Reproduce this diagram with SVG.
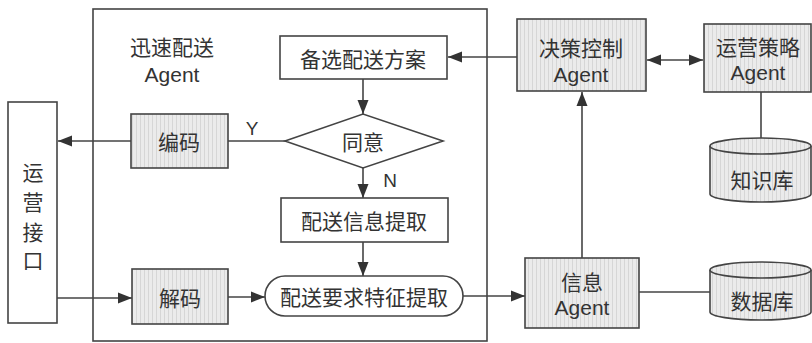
<svg xmlns="http://www.w3.org/2000/svg" width="812" height="343" viewBox="0 0 812 343">
<style>
.box{fill:#fff;stroke:#444;stroke-width:1.6}
.hat{fill:url(#hatch);stroke:#444;stroke-width:1.6}
.cn{font-family:"Noto Sans CJK SC","Liberation Sans",sans-serif;font-size:21px;fill:#333;text-anchor:middle;dominant-baseline:central}
.en{font-family:"Liberation Sans","Noto Sans",sans-serif;font-size:21px;fill:#333;text-anchor:middle;dominant-baseline:central}
.lbl{font-family:"Liberation Sans","Noto Sans",sans-serif;font-size:19px;fill:#333;text-anchor:middle;dominant-baseline:central}
.ln{fill:none;stroke:#444;stroke-width:1.6}
</style>
<defs>
<pattern id="hatch" width="4" height="4" patternUnits="userSpaceOnUse">
<rect width="4" height="4" fill="#ebebeb"/>
<rect width="1" height="4" fill="#d6d6d6"/>
</pattern>
<marker id="arr" markerUnits="userSpaceOnUse" markerWidth="15" markerHeight="12" refX="14" refY="6" orient="auto-start-reverse">
<path d="M0,0.5 L14,6 L0,11.5 Z" fill="#333"/>
</marker>
</defs>
<rect width="812" height="343" fill="#fff"/>

<g id="frame">
<rect x="93" y="9" width="394" height="332" class="box" fill="none"/>
<text x="172" y="46" class="cn" font-size="20">迅速配送</text>
<text x="172" y="74" class="en" font-size="20">Agent</text>
</g>

<g id="connectors">
<line x1="517" y1="57" x2="448" y2="57" class="ln" marker-end="url(#arr)"/>
<line x1="363" y1="79" x2="363" y2="114" class="ln" marker-end="url(#arr)"/>
<line x1="285" y1="141" x2="228" y2="141" class="ln"/>
<line x1="131" y1="141" x2="58" y2="141" class="ln" marker-end="url(#arr)"/>
<line x1="363" y1="168" x2="363" y2="198" class="ln" marker-end="url(#arr)"/>
<line x1="363" y1="242" x2="363" y2="276" class="ln" marker-end="url(#arr)"/>
<line x1="57" y1="298" x2="132" y2="298" class="ln" marker-end="url(#arr)"/>
<line x1="228" y1="297" x2="265" y2="297" class="ln" marker-end="url(#arr)"/>
<line x1="463" y1="296" x2="525" y2="296" class="ln" marker-end="url(#arr)"/>
<line x1="582" y1="258" x2="582" y2="92" class="ln" marker-end="url(#arr)"/>
<line x1="647" y1="60" x2="703" y2="60" class="ln" marker-start="url(#arr)" marker-end="url(#arr)"/>
<line x1="761" y1="92" x2="761" y2="138" class="ln"/>
<line x1="639" y1="292" x2="710" y2="292" class="ln"/>
<text x="252" y="128" class="lbl">Y</text>
<text x="390" y="180" class="lbl">N</text>
</g>

<g id="ops-interface">
<rect x="8" y="102" width="49" height="221" class="box"/>
<text x="33" y="171" class="cn">运</text>
<text x="33" y="201" class="cn">营</text>
<text x="33" y="231" class="cn">接</text>
<text x="33" y="259" class="cn">口</text>
</g>

<g id="encode">
<rect x="131" y="114" width="97" height="54" class="hat"/>
<text x="179" y="141" class="cn">编码</text>
</g>

<g id="decode">
<rect x="132" y="269" width="96" height="55" class="hat"/>
<text x="180" y="297" class="cn">解码</text>
</g>

<g id="alt-plan">
<rect x="280" y="36" width="167" height="43" class="box"/>
<text x="363" y="58" class="cn">备选配送方案</text>
</g>

<g id="agree">
<polygon points="285,141 363,114 443,141 363,168" class="box"/>
<text x="363" y="141" class="cn">同意</text>
</g>

<g id="info-extract">
<rect x="281" y="198" width="167" height="44" class="box"/>
<text x="364" y="220" class="cn">配送信息提取</text>
</g>

<g id="feature-extract">
<rect x="265" y="276" width="198" height="40" rx="20" ry="20" class="box"/>
<text x="364" y="296" class="cn">配送要求特征提取</text>
</g>

<g id="decision-agent">
<rect x="517" y="19" width="129" height="72" class="hat"/>
<text x="581" y="47" class="cn">决策控制</text>
<text x="581" y="74" class="en">Agent</text>
</g>

<g id="strategy-agent">
<rect x="704" y="24" width="107" height="68" class="hat"/>
<text x="758" y="46" class="cn">运营策略</text>
<text x="758" y="72" class="en">Agent</text>
</g>

<g id="knowledge-base">
<path d="M710,146 L710,194 A50.5,8 0 0 0 811,194 L811,146" class="hat"/>
<ellipse cx="760.5" cy="146" rx="50.5" ry="8" class="hat"/>
<text x="762" y="179" class="cn">知识库</text>
</g>

<g id="info-agent">
<rect x="525" y="258" width="114" height="70" class="hat"/>
<text x="582" y="281" class="cn">信息</text>
<text x="582" y="307" class="en">Agent</text>
</g>

<g id="database">
<path d="M710,270 L710,312 A50.5,8 0 0 0 811,312 L811,270" class="hat"/>
<ellipse cx="760.5" cy="270" rx="50.5" ry="8" class="hat"/>
<text x="762" y="300" class="cn">数据库</text>
</g>
</svg>
